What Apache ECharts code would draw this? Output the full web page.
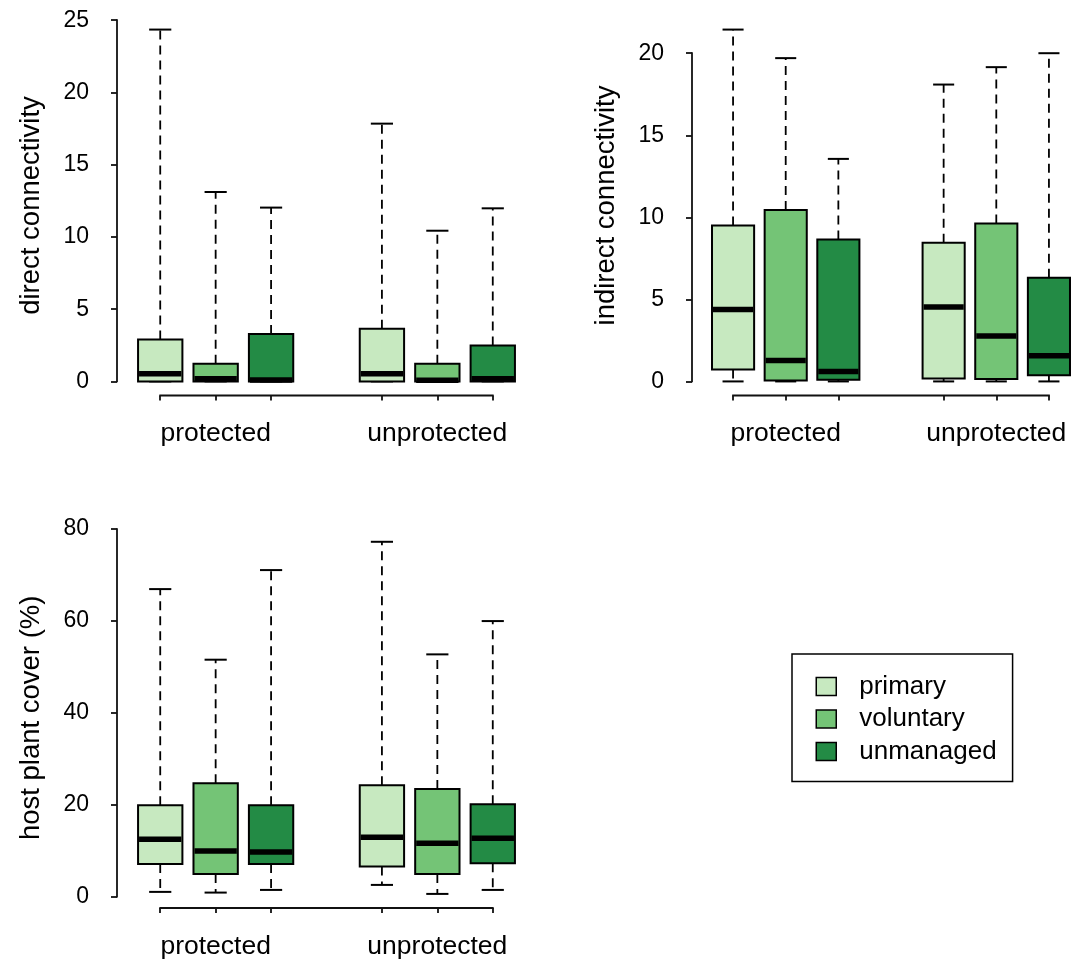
<!DOCTYPE html>
<html>
<head>
<meta charset="utf-8">
<script src="https://cdn.jsdelivr.net/npm/echarts@6/dist/echarts.min.js"></script>
<style>
html,body{margin:0;padding:0;background:#ffffff;}
#chart{width:1090px;height:962px;}
</style>
</head>
<body>
<div id="chart"></div>
<script>
// ---------- data ----------
const groupLabels = ['protected', 'unprotected'];
const managementTypes = ['primary', 'voluntary', 'unmanaged'];
const managementColors = ['#c7e9c0', '#74c476', '#238b45'];

// each entry: [min, Q1, median, Q3, max] for protected, unprotected
const directPrimary   = [[0, 0, 0.53, 2.91, 24.35], [0, 0, 0.53, 3.65, 17.84]];
const directVoluntary = [[0, 0, 0.18, 1.22, 13.11], [0, 0, 0.08, 1.22, 10.43]];
const directUnmanaged = [[0, 0, 0.10, 3.28, 12.03], [0, 0, 0.18, 2.49, 11.98]];

const indirectPrimary   = [[0, 0.73, 4.39, 9.50, 21.44], [0, 0.18, 4.53, 8.45, 18.09]];
const indirectVoluntary = [[0, 0.06, 1.28, 10.44, 19.70], [0, 0.15, 2.77, 9.63, 19.15]];
const indirectUnmanaged = [[0, 0.10, 0.61, 8.65, 13.56], [0, 0.38, 1.56, 6.31, 20.00]];

const coverPrimary   = [[1.02, 7.11, 12.47, 19.87, 66.94], [2.54, 6.53, 12.91, 24.22, 77.24]];
const coverVoluntary = [[0.87, 4.93, 9.94, 24.66, 51.57], [0.58, 4.93, 11.60, 23.43, 52.73]];
const coverUnmanaged = [[1.45, 7.11, 9.72, 19.87, 71.08], [1.45, 7.25, 12.69, 20.09, 59.98]];

const directTicks = [0, 5, 10, 15, 20, 25];
const indirectTicks = [0, 5, 10, 15, 20];
const coverTicks = [0, 20, 40, 60, 80];

const panelTitles = ['direct connectivity', 'indirect connectivity', 'host plant cover (%)'];

// ---------- layout / style ----------
const FONT = "'Liberation Sans', Arial, Helvetica, sans-serif";
const panels = [
  { title: panelTitles[0], ticks: directTicks, data: [directPrimary, directVoluntary, directUnmanaged],
    grid: { left: 117, top: 15.5, width: 419, height: 380 } },
  { title: panelTitles[1], ticks: indirectTicks, data: [indirectPrimary, indirectVoluntary, indirectUnmanaged],
    grid: { left: 692, top: 15.5, width: 419, height: 380 } },
  { title: panelTitles[2], ticks: coverTicks, data: [coverPrimary, coverVoluntary, coverUnmanaged],
    grid: { left: 117, top: 527.7, width: 419, height: 380.3 } }
];

function position(groupIdx, mgmtIdx) { return groupIdx * 4 + mgmtIdx + 1; }
const allPositions = [];
groupLabels.forEach((g, gi) => managementTypes.forEach((m, mi) => allPositions.push(position(gi, mi))));
const posMin = Math.min(...allPositions), posMax = Math.max(...allPositions);
const xLo = posMin - 0.5, xHi = posMax + 0.5;
const xExt = 0.04 * (xHi - xLo);
const labelPositions = groupLabels.map((g, gi) => position(gi, 1));

function renderBox(params, api) {
  const x = api.value(0);
  const vMin = api.value(1), q1 = api.value(2), med = api.value(3), q3 = api.value(4), vMax = api.value(5);
  const pMin = api.coord([x, vMin]);
  const cx = pMin[0];
  const yMin = pMin[1];
  const yQ1 = api.coord([x, q1])[1];
  const yMed = api.coord([x, med])[1];
  const yQ3 = api.coord([x, q3])[1];
  const yMax = api.coord([x, vMax])[1];
  const unit = api.size([1, 0])[0];
  const halfBox = unit * 0.4;
  const halfCap = unit * 0.2;
  const color = api.visual('color');
  const dash = { stroke: '#000', lineWidth: 1.8, lineDash: [9, 6] };
  const solid = { stroke: '#000', lineWidth: 2 };
  return {
    type: 'group',
    children: [
      { type: 'line', shape: { x1: cx, y1: yQ3, x2: cx, y2: yMax }, style: dash },
      { type: 'line', shape: { x1: cx, y1: yQ1, x2: cx, y2: yMin }, style: dash },
      { type: 'line', shape: { x1: cx - halfCap, y1: yMax, x2: cx + halfCap, y2: yMax }, style: solid },
      { type: 'line', shape: { x1: cx - halfCap, y1: yMin, x2: cx + halfCap, y2: yMin }, style: solid },
      { type: 'rect', shape: { x: cx - halfBox, y: yQ3, width: 2 * halfBox, height: yQ1 - yQ3 },
        style: { fill: color, stroke: '#000', lineWidth: 2 } },
      { type: 'line', shape: { x1: cx - halfBox + 1, y1: yMed, x2: cx + halfBox - 1, y2: yMed },
        style: { stroke: '#000', lineWidth: 5.5, lineCap: 'butt' } }
    ]
  };
}

function renderAxes(params, api) {
  const xEdge = api.value(0), yBottom = api.value(1);
  const a = api.coord([xEdge, api.value(2)]);
  const b = api.coord([xEdge, api.value(3)]);
  const c = api.coord([api.value(4), yBottom]);
  const d = api.coord([api.value(5), yBottom]);
  const st = { stroke: '#111', lineWidth: 1.8 };
  return {
    type: 'group',
    children: [
      { type: 'line', shape: { x1: a[0], y1: a[1] + 0.9, x2: b[0], y2: b[1] - 0.9 }, style: st },
      { type: 'line', shape: { x1: c[0] - 0.9, y1: c[1], x2: d[0] + 0.9, y2: d[1] }, style: st }
    ]
  };
}

const grids = [], xAxes = [], yAxes = [], series = [];
panels.forEach((p, pi) => {
  grids.push(Object.assign({ containLabel: false }, p.grid));
  let dMin = Infinity, dMax = -Infinity;
  p.data.forEach(arr => arr.forEach(v => { dMin = Math.min(dMin, v[0]); dMax = Math.max(dMax, v[4]); }));
  const yExt = 0.04 * (dMax - dMin);
  const yMin = dMin - yExt, yMax = dMax + yExt;
  xAxes.push({
    type: 'value', gridIndex: pi, min: xLo - xExt, max: xHi + xExt, position: 'bottom',
    axisLine: { show: false, onZero: false },
    splitLine: { show: false },
    axisTick: { show: true, customValues: allPositions, length: 5, lineStyle: { color: '#111', width: 1.8 } },
    axisLabel: {
      show: true, customValues: labelPositions, margin: 25,
      formatter: v => groupLabels[labelPositions.indexOf(v)] || '',
      fontFamily: FONT, fontSize: 26.5, color: '#000'
    }
  });
  yAxes.push({
    type: 'value', gridIndex: pi, min: yMin, max: yMax, position: 'left',
    name: p.title, nameLocation: 'middle', nameGap: 72,
    nameTextStyle: { fontFamily: FONT, fontSize: 27.5, color: '#000' },
    axisLine: { show: false, onZero: false },
    splitLine: { show: false },
    axisTick: { show: true, customValues: p.ticks, length: 6, lineStyle: { color: '#111', width: 1.8 } },
    axisLabel: {
      show: true, customValues: p.ticks, margin: 28,
      formatter: v => String(v),
      fontFamily: FONT, fontSize: 23, color: '#000'
    }
  });
  series.push({
    type: 'custom', xAxisIndex: pi, yAxisIndex: pi, silent: true, clip: false,
    renderItem: renderAxes,
    data: [[xLo - xExt, yMin, p.ticks[0], p.ticks[p.ticks.length - 1], posMin, posMax]],
    z: 1
  });
  managementTypes.forEach((m, mi) => {
    series.push({
      type: 'custom', name: m, xAxisIndex: pi, yAxisIndex: pi, clip: false,
      itemStyle: { color: managementColors[mi] },
      renderItem: renderBox,
      encode: { x: 0, y: [1, 2, 3, 4, 5] },
      data: p.data[mi].map((v, gi) => [position(gi, mi)].concat(v)),
      z: 2
    });
  });
});

const chart = echarts.init(document.getElementById('chart'), null, { renderer: 'canvas' });
chart.setOption({
  animation: false,
  backgroundColor: '#ffffff',
  grid: grids,
  xAxis: xAxes,
  yAxis: yAxes,
  legend: {
    orient: 'vertical', left: 792, top: 654,
    padding: [16.5, 16, 14, 23.5],
    borderColor: '#000', borderWidth: 1.5,
    itemWidth: 20, itemHeight: 18, itemGap: 0.5,
    icon: 'rect',
    selectedMode: false,
    itemStyle: { borderColor: '#000', borderWidth: 1.5 },
    textStyle: { fontFamily: FONT, fontSize: 26, color: '#000', lineHeight: 32, padding: [0, 0, 0, 18] },
    data: managementTypes.map((m, mi) => ({ name: m, itemStyle: { color: managementColors[mi], borderColor: '#000', borderWidth: 1.5 } }))
  },
  series: series
});
</script>
</body>
</html>
